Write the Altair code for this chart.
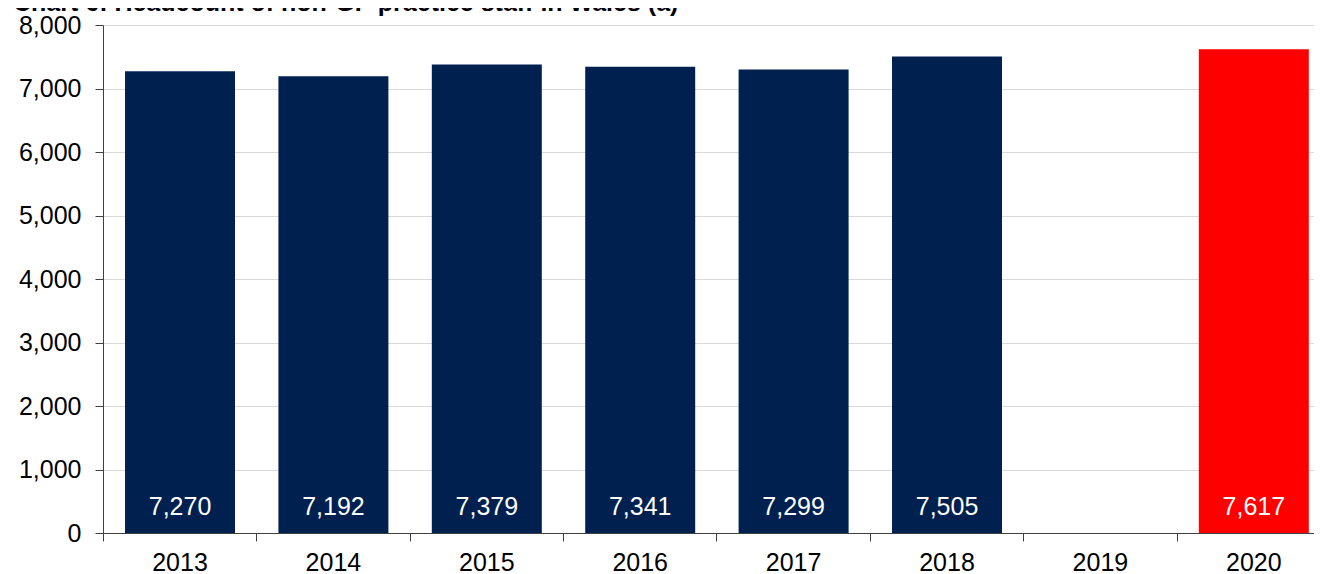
import altair as alt
import pandas as pd

years = ["2013", "2014", "2015", "2016", "2017", "2018", "2019", "2020"]
headcount = [7270, 7192, 7379, 7341, 7299, 7505, None, 7617]
y_ticks = [0, 1000, 2000, 3000, 4000, 5000, 6000, 7000, 8000]
title_text = ["Chart 6: Headcount of non-GP practice staff in Wales (a)"]

df = pd.DataFrame({"year": years, "headcount": headcount})
title_df = pd.DataFrame({"t": title_text})

FONT = "Liberation Sans"
NAVY = "#00214f"
RED = "#ff0000"
AXIS_COL = "#404040"

x_scale = alt.Scale(type="band", domain=years, paddingInner=0.283, paddingOuter=0.0887, align=0.809)
x_axis = alt.Axis(
    title=None, bandPosition=-0.197, labelAngle=0, tickSize=8, labelPadding=9,
    grid=False, domainColor=AXIS_COL, tickColor=AXIS_COL, labelFontSize=25,
    labelColor="#000000", labelFont=FONT,
)
y_scale = alt.Scale(domain=[0, 8000], nice=False)
y_axis = alt.Axis(
    title=None, values=y_ticks, format=",.0f", tickSize=8, labelPadding=14,
    grid=True, gridColor="#d9d9d9", domainColor=AXIS_COL, tickColor=AXIS_COL,
    labelFontSize=25, labelColor="#000000", labelFont=FONT,
)

bars = alt.Chart(df).transform_filter("isValid(datum.headcount)").mark_bar().encode(
    x=alt.X("year:N", sort=years, scale=x_scale, axis=x_axis),
    y=alt.Y("headcount:Q", scale=y_scale, axis=y_axis),
    color=alt.condition(alt.datum.year == "2020", alt.value(RED), alt.value(NAVY)),
)

labels = alt.Chart(df).transform_filter("isValid(datum.headcount)").transform_calculate(
    base="0"
).mark_text(color="white", fontSize=25, font=FONT, baseline="middle", dy=-26).encode(
    x=alt.X("year:N", sort=years, scale=x_scale, axis=x_axis, bandPosition=0.5),
    y=alt.Y("base:Q", scale=y_scale, axis=y_axis),
    text=alt.Text("headcount:Q", format=","),
)

title = alt.Chart(title_df).mark_text(
    fontSize=25, font=FONT, fontWeight="bold", align="left", baseline="alphabetic", color="#000000"
).encode(text="t:N", x=alt.value(-90), y=alt.value(-14))

chart = alt.layer(bars, labels, title).properties(
    width=1211,
    height=508,
    autosize=alt.AutoSizeParams(type="none"),
    padding={"left": 95, "top": 17, "right": 0, "bottom": 41},
).configure_view(stroke=None)

chart.save("out.html", embed_options={"renderer": "svg", "actions": False})
